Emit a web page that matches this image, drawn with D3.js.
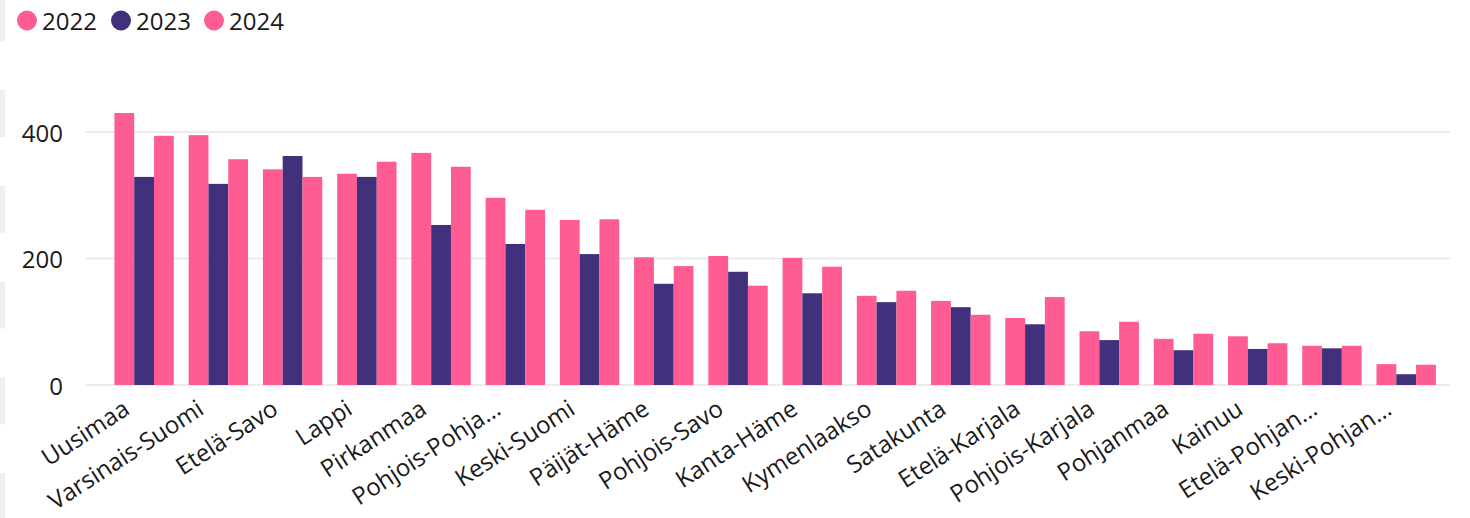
<!DOCTYPE html>
<html>
<head>
<meta charset="utf-8">
<script src="https://cdn.jsdelivr.net/npm/d3@7"></script>
<style>
  html, body { margin: 0; padding: 0; background: #fff; }
  svg { display: block; }
  text { font-family: "Open Sans", "Segoe UI", sans-serif; fill: #1a1a1a; }
</style>
</head>
<body>
<svg id="chart" width="1470" height="518"></svg>
<script>
const categories = ["Uusimaa","Varsinais-Suomi","Etelä-Savo","Lappi","Pirkanmaa","Pohjois-Pohjanmaa","Keski-Suomi","Päijät-Häme","Pohjois-Savo","Kanta-Häme","Kymenlaakso","Satakunta","Etelä-Karjala","Pohjois-Karjala","Pohjanmaa","Kainuu","Etelä-Pohjanmaa","Keski-Pohjanmaa"];
const tickLabels = ["Uusimaa","Varsinais-Suomi","Etelä-Savo","Lappi","Pirkanmaa","Pohjois-Pohja…","Keski-Suomi","Päijät-Häme","Pohjois-Savo","Kanta-Häme","Kymenlaakso","Satakunta","Etelä-Karjala","Pohjois-Karjala","Pohjanmaa","Kainuu","Etelä-Pohjan…","Keski-Pohjan…"];
const years = ["2022","2023","2024"];
const values2022 = [430,395,341,334,367,296,261,202,204,201,141,133,106,85,73,77,62,33];
const values2023 = [329,318,362,329,253,223,207,160,179,145,131,123,96,71,55,57,58,17];
const values2024 = [394,357,329,353,345,277,262,188,157,187,149,111,139,100,81,66,62,32];
const yTicks = [0,200,400];
const colors = ["#FF5C93","#41307B","#FF5C93"];

const series = [values2022, values2023, values2024];
const svg = d3.select("#chart");

// decorative page marks on the left edge
svg.append("g").selectAll("rect").data(d3.range(-1,5)).join("rect")
  .attr("x",0).attr("y",d=>90+d*95.75).attr("width",5).attr("height",47)
  .attr("fill","#efefef");

const x0 = d3.scaleBand().domain(categories).range([107,1443.3]).paddingInner(0.2).paddingOuter(0.1);
const x1 = d3.scaleBand().domain(years).range([0,x0.bandwidth()]);
const y = d3.scaleLinear().domain([0,400]).range([385,132]);

// gridlines
svg.append("g").selectAll("line").data(yTicks).join("line")
  .attr("x1",85).attr("x2",1450)
  .attr("y1",d=>y(d)).attr("y2",d=>y(d))
  .attr("stroke","#e6e6e6").attr("stroke-width",1.6);

// y axis labels
svg.append("g").selectAll("text").data(yTicks).join("text")
  .attr("x",63).attr("y",d=>y(d))
  .attr("text-anchor","end").attr("dominant-baseline","central")
  .style("font-size","24px").text(d=>d);

// bars
const groups = svg.append("g").selectAll("g").data(categories).join("g")
  .attr("transform",d=>`translate(${x0(d)},0)`);
groups.selectAll("rect").data((c,i)=>years.map((yr,j)=>({yr, v: series[j][i], j})))
  .join("rect")
  .attr("x",d=>x1(d.yr)).attr("width",x1.bandwidth())
  .attr("y",d=>y(d.v)).attr("height",d=>y(0)-y(d.v))
  .attr("fill",d=>colors[d.j]);

// x labels
svg.append("g").selectAll("text").data(categories).join("text")
  .attr("transform",d=>`translate(${x0(d)+x0.bandwidth()/2-13},413) rotate(-33)`)
  .attr("text-anchor","end")
  .style("font-size","24px")
  .text((d,i)=>tickLabels[i]);

// legend
const legendX = [27,121,214];
const lg = svg.append("g").selectAll("g").data(years).join("g")
  .attr("transform",(d,i)=>`translate(${legendX[i]},20.5)`);
lg.append("circle").attr("r",10).attr("fill",(d,i)=>colors[i]);
lg.append("text").attr("x",15).attr("y",9.5).style("font-size","24px").text(d=>d);
</script>
</body>
</html>
